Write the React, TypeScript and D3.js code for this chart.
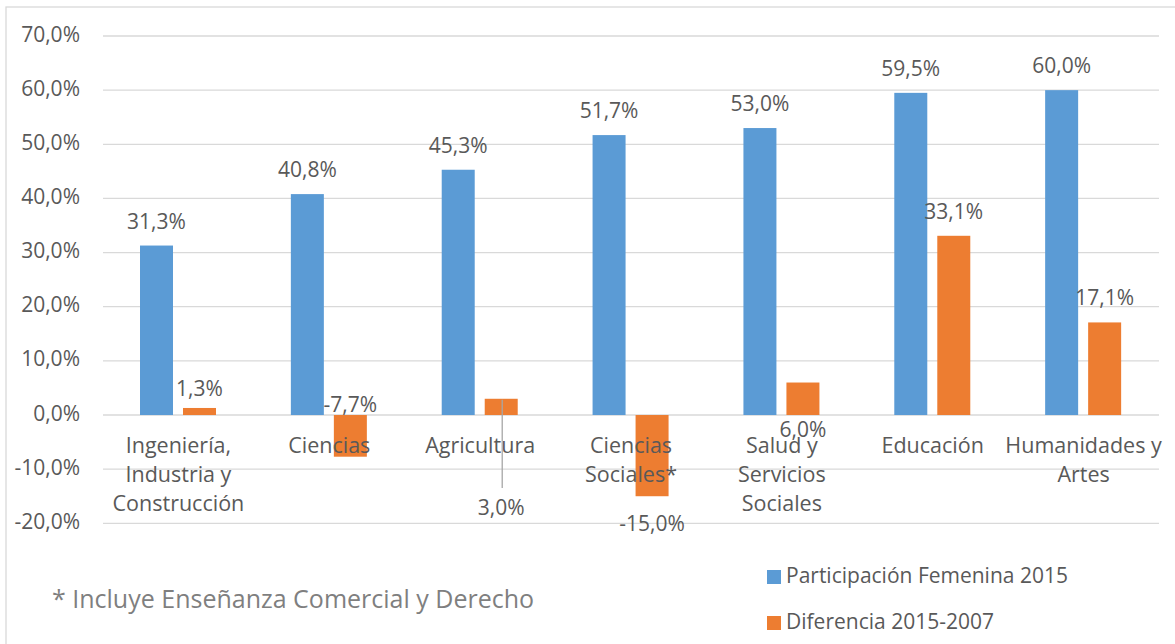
import React from "react";
import * as d3 from "d3";

const categories = [
  "Ingeniería,\nIndustria y\nConstrucción",
  "Ciencias",
  "Agricultura",
  "Ciencias\nSociales*",
  "Salud y\nServicios\nSociales",
  "Educación",
  "Humanidades y\nArtes",
];
const participacion = [31.3, 40.8, 45.3, 51.7, 53.0, 59.5, 60.0];
const diferencia = [1.3, -7.7, 3.0, -15.0, 6.0, 33.1, 17.1];
const seriesNames = ["Participación Femenina 2015", "Diferencia 2015-2007"];
const yTicks = [-20, -10, 0, 10, 20, 30, 40, 50, 60, 70];
const footnote = "* Incluye Enseñanza Comercial y Derecho";
// label placement style for the second series (Excel-like manual placements)
const diffLabelModes = ["close", "zeroAbove", "leader", "belowEnd", "zeroBelow", "above", "above"];

const W = 1175;
const H = 644;
const FONT = "'Open Sans', 'Noto Sans', sans-serif";
const TEXT = "#595959";
const GRID = "#d9d9d9";
const BLUE = "#5B9BD5";
const ORANGE = "#ED7D31";
const FS = 21;

const fmt = (v: number) => d3.format(".1f")(v).replace(".", ",").replace("−", "-") + "%";

export default function App() {
  const x = d3.scaleBand<number>().domain(categories.map((_, i) => i)).range([103, 1159]).padding(0);
  const xSub = d3.scaleBand<number>().domain([0, 1]).range([37, 113]).paddingInner(10 / 43);
  const y = d3.scaleLinear().domain([-20, 70]).range([523.3, 36]);
  const bw = xSub.bandwidth();

  const series = [participacion, diferencia];
  const colors = [BLUE, ORANGE];

  return (
    <svg
      width={W}
      height={H}
      style={{ position: "absolute", left: 0, top: 0, background: "#fff" }}
      fontFamily={FONT}
    >
      <rect x={0} y={0} width={W} height={H} fill="#fff" />
      <rect x={6} y={7} width={W + 50} height={H + 50} fill="none" stroke={GRID} strokeWidth={1.3} />
      {/* gridlines */}
      {yTicks.map((t) => (
        <line key={"g" + t} x1={103} x2={1159} y1={y(t)} y2={y(t)} stroke={GRID} strokeWidth={1.3} />
      ))}
      {/* y tick labels */}
      {yTicks.map((t) => (
        <text
          key={"t" + t}
          x={80}
          y={y(t)}
          textAnchor="end"
          dominantBaseline="middle"
          fontSize={FS}
          fill={TEXT}
        >
          {fmt(t)}
        </text>
      ))}
      {/* bars */}
      {series.map((vals, s) =>
        vals.map((v, i) => (
          <rect
            key={"b" + s + "-" + i}
            x={(x(i) as number) + (xSub(s) as number)}
            y={y(Math.max(0, v))}
            width={bw}
            height={Math.abs(y(v) - y(0))}
            fill={colors[s]}
          />
        ))
      )}
      {/* category labels */}
      {categories.map((c, i) => {
        const cx = (x(i) as number) + x.bandwidth() / 2;
        return (
          <text key={"c" + i} textAnchor="middle" fontSize={21.5} fill={TEXT}>
            {c.split("\n").map((line, j) => (
              <tspan key={j} x={cx} y={453 + j * 29}>
                {line}
              </tspan>
            ))}
          </text>
        );
      })}
      {/* labels series 1 */}
      {participacion.map((v, i) => (
        <text
          key={"l0" + i}
          x={(x(i) as number) + (xSub(0) as number) + bw / 2}
          y={y(v) - 17}
          textAnchor="middle"
          fontSize={FS}
          fill={TEXT}
        >
          {fmt(v)}
        </text>
      ))}
      {/* labels series 2 */}
      {diferencia.map((v, i) => {
        const cx = (x(i) as number) + (xSub(1) as number) + bw / 2;
        const mode = diffLabelModes[i];
        let by = y(v) - 17;
        if (mode === "close") by = y(v) - 11.5;
        else if (mode === "zeroAbove") by = y(0) - 3;
        else if (mode === "leader") by = y(0) + 100;
        else if (mode === "belowEnd") by = y(v) + 35;
        else if (mode === "zeroBelow") by = y(0) + 22;
        return (
          <g key={"l1" + i}>
            {mode === "leader" && (
              <line x1={cx + 1} x2={cx + 1} y1={y(v) + 1} y2={by - 27} stroke="#a6a6a6" strokeWidth={1.3} />
            )}
            <text x={cx} y={by} textAnchor="middle" fontSize={FS} fill={TEXT}>
              {fmt(v)}
            </text>
          </g>
        );
      })}
      {/* footnote */}
      <text x={52} y={601} dominantBaseline="middle" fontSize={25} fill="#7f7f7f">
        {footnote}
      </text>
      {/* legend */}
      {seriesNames.map((n, s) => (
        <g key={"lg" + s}>
          <rect x={767} y={570 + s * 46} width={14} height={14} fill={colors[s]} />
          <text x={786} y={577 + s * 46} dominantBaseline="middle" fontSize={FS} fill={TEXT}>
            {n}
          </text>
        </g>
      ))}
    </svg>
  );
}
